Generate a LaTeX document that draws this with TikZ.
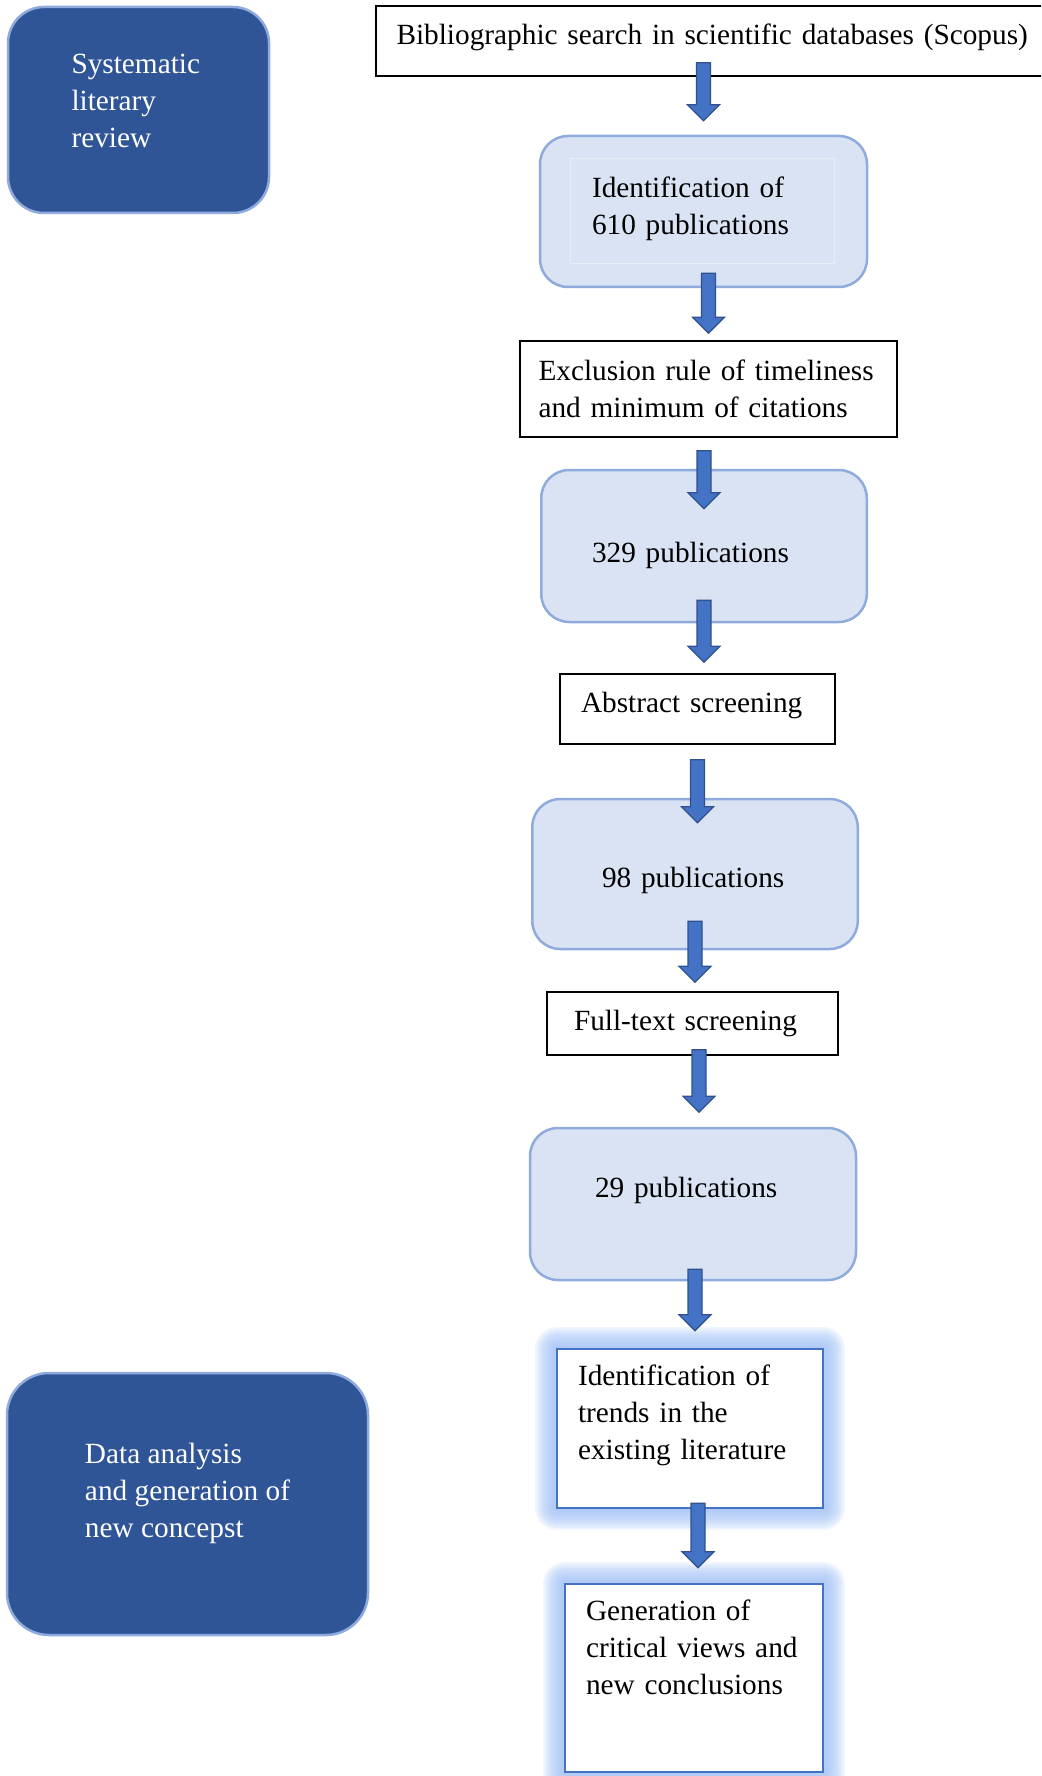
\documentclass[tikz,border=0pt]{standalone}
\usepackage{fontspec}
\setmainfont{Liberation Serif}
\usetikzlibrary{calc}
\definecolor{sidefill}{HTML}{2F5597}
\definecolor{paleline}{HTML}{8FAADC}
\definecolor{palefill}{HTML}{DAE3F3}
\definecolor{faintline}{HTML}{E8EDF6}
\definecolor{arrowfill}{HTML}{4472C4}
\definecolor{arrowline}{HTML}{2F528F}
\definecolor{glowc}{HTML}{9DBEF5}
% Push the text of a box up (empty last line) or down (empty first line).
\newcommand{\lift}[1]{\\[#1]\mbox{}}
\newcommand{\drop}[1]{\mbox{}\\[#1]}

\begin{document}
\begin{tikzpicture}
	[
		x=1pt, y=-1pt,
		% Same font in every box.
		every node/.style={font=\fontsize{29.3}{37}\selectfont, align=left},
		% Dark blue boxes on the left.
		sidebox/.style={draw=paleline, line width=2.5pt, fill=sidefill, text=white, rounded corners=#1},
		% Plain boxes with a black frame.
		stepbox/.style={draw=black, line width=1.5pt, fill=white},
		% Pale blue boxes with the counts.
		palebox/.style={draw=paleline, line width=2.5pt, fill=palefill, rounded corners=28},
		% One soft ring of the glow.
		halo/.style={preaction={draw=glowc, line width=#1, opacity=0.14, line join=round}},
		% Boxes with a blue glow.
		glowbox/.style={draw=arrowfill, line width=2.5pt, fill=white,
			halo=44pt, halo=40pt, halo=36pt, halo=32pt, halo=28pt,
			halo=24pt, halo=20pt, halo=16pt, halo=12pt, halo=8pt},
		% Fat block arrow between two points.
		flow/.style={draw=arrowline, fill=arrowfill, line width=1.2pt,
			to path={let \p1=(\tikztostart), \p2=(\tikztotarget) in
				(\x1-7pt,\y1) -- (\x1+7pt,\y1) -- (\x1+7pt,\y2+16pt) -- (\x1+16pt,\y2+16pt)
				-- (\x1,\y2) -- (\x1-16pt,\y2+16pt) -- (\x1-7pt,\y2+16pt) -- cycle}}
	]
	\useasboundingbox (0,0) rectangle (1041,1776);
	\clip (0,0) rectangle (1041,1776);

	% Left column
	\node[sidebox=36, minimum width=261, minimum height=206, text width=134] (sysreview) at (138.5,110)
		{Systematic\\literary\\review\lift{-19.6pt}};
	\node[sidebox=42, minimum width=361, minimum height=262] (analysis) at (187.5,1504)
		{Data analysis\\and generation of\\new concepst\lift{-9.4pt}};

	% Main column
	\node[stepbox, minimum width=674, minimum height=70, text width=633] (search) at (713,41)
		{Bibliographic search in scientific databases (Scopus)\lift{-23.4pt}};
	\node[palebox, minimum width=327, minimum height=151, text width=223] (found) at (703.5,211.5)
		{Identification of\\610 publications\lift{-26pt}};
	\draw[faintline, line width=0.8pt] ($(found.north west)+(32,24)$) rectangle ($(found.south east)+(-34,-25)$);
	\node[stepbox, minimum width=377, minimum height=96, text width=340] (exclusion) at (708.5,389)
		{Exclusion rule of timeliness\\and minimum of citations};
	\node[palebox, minimum width=325.5, minimum height=152, text width=224] (remaining) at (704,546)
		{\drop{3pt}329 publications};
	\node[stepbox, minimum width=275, minimum height=70, text width=233] (abstract) at (697.5,709)
		{Abstract screening\lift{-23.4pt}};
	\node[palebox, minimum width=325.5, minimum height=150, text width=186] (screened) at (695,874)
		{\drop{-3.4pt}98 publications};
	\node[stepbox, minimum width=291, minimum height=63, text width=237] (fulltext) at (692.5,1023.5)
		{Full-text screening};
	\node[palebox, minimum width=326, minimum height=152, text width=196] (selected) at (693,1204)
		{29 publications\lift{-3.4pt}};
	\node[glowbox, minimum width=266, minimum height=159, text width=224] (trends) at (690,1428.5)
		{Identification of\\trends in the\\existing literature\lift{-4.6pt}};
	\node[glowbox, minimum width=258, minimum height=188, text width=216] (conclusions) at (694,1678)
		{Generation of\\critical views and\\new conclusions\lift{25.4pt}};

	% Arrows
	\draw[flow] ($(found.north |- search.south)+(0,-14)$) to ($(found.north)+(0,-14)$);
	\draw[flow] ($(exclusion.north |- found.south)+(0,-15)$) to ($(exclusion.north)+(0,-7)$);
	\draw[flow] ($(remaining.north |- exclusion.south)+(0,13)$) to ($(remaining.north)+(0,40)$);
	\draw[flow] ($(remaining.south)+(0,-23)$) to ($(remaining.south |- abstract.north)+(0,-11)$);
	\draw[flow] ($(abstract.south)+(0,15)$) to ($(abstract.south |- screened.north)+(0,25)$);
	\draw[flow] ($(screened.south)+(0,-29)$) to ($(screened.south |- fulltext.north)+(0,-9)$);
	\draw[flow] ($(selected.north |- fulltext.south)+(6,-6)$) to ($(selected.north)+(6,-14.5)$);
	\draw[flow] ($(selected.south)+(2,-12)$) to ($(selected.south |- trends.north)+(2,-17)$);
	\draw[flow] ($(conclusions.north |- trends.south)+(4,-6)$) to ($(conclusions.north)+(4,-15)$);
\end{tikzpicture}
\end{document}
